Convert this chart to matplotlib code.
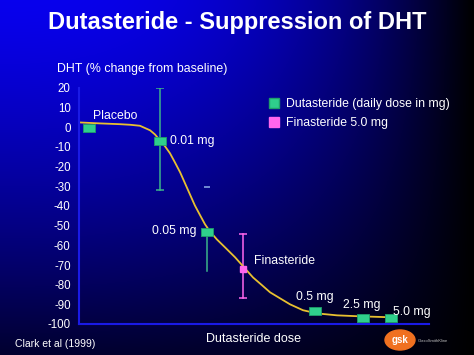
import numpy as np
import matplotlib
matplotlib.use("Agg")
import matplotlib.pyplot as plt
from matplotlib.lines import Line2D
from matplotlib.patches import Ellipse

plt.rcParams['font.family'] = ['Liberation Sans', 'DejaVu Sans']

# positions along the (unscaled) dose axis, 0..100
dose_labels = ["Placebo", "0.01 mg", "0.05 mg", "0.5 mg", "2.5 mg", "5.0 mg"]
dose_x = [2.9, 23.1, 36.6, 67.4, 81.1, 89.1]
dose_y = [-0.5, -7, -53, -93.5, -97, -97]
# error bar ends (None = not drawn)
err_low = [None, -32, -73, None, None, None]
err_high = [None, 20, None, None, None, None]
stray_cap = (36.6, -30.5)

fin_x = 46.9
fin_y = -72
fin_low, fin_high = -87, -54

# fitted curve
curve_x = [0, 6, 11.7, 14.6, 17.4, 20.3, 21.7, 23.1, 24.6, 26.0, 27.4, 28.9, 30.3,
           31.7, 33.1, 34.6, 36.0, 37.4, 39.4, 41.7, 44.6, 46.9, 49.7, 52.3, 54.6,
           57.4, 60.3, 64.0, 68.0, 73.7, 80.3, 89.4]
curve_y = [2.5, 2.0, 1.6, 1.3, 0.8, -1.5, -3.6, -6.6, -9.7, -13.2, -17.8, -22.9, -28.5,
           -34.1, -39.7, -44.7, -49.3, -52.9, -57.0, -61.0, -66.1, -70.7, -76.3, -80.3, -83.9,
           -86.9, -90.0, -93.0, -94.6, -95.6, -96.1, -96.6]

yticks = list(range(20, -101, -10))

green = "#2fcf8c"
green_bar = "#3cb48a"
pink = "#ff66ee"
curve_col = "#e8c030"

fig = plt.figure(figsize=(4.74, 3.55), dpi=100)

# background gradient: bright blue top-left fading to black bottom-right
bg = fig.add_axes([0, 0, 1, 1])
gx = np.linspace(0, 1, 300)
gy = np.linspace(0, 1, 200)
GX, GY = np.meshgrid(gx, gy)
inten = (1 - GX ** 2.5) * (1 - 0.8 * GY ** 1.3)
img = np.zeros((200, 300, 3))
img[..., 2] = 0.93 * inten
img[..., 0] = 0.03 * inten
bg.imshow(img, aspect='auto', extent=[0, 1, 0, 1], origin='upper')
bg.axis('off')

ax = fig.add_axes([79 / 474, 1 - 324 / 355, 350 / 474, (324 - 88) / 355])
ax.patch.set_alpha(0)
ax.set_xlim(0, 100)
ax.set_ylim(-100, 20)
ax.set_yticks(yticks)
ax.set_yticklabels([str(t) for t in yticks], color='white', fontsize=8.3)
ax.set_xticks([])
ax.tick_params(axis='y', length=0, pad=6)
for s in ['top', 'right']:
    ax.spines[s].set_visible(False)
ax.spines['left'].set_color('#1a1ae6')
ax.spines['bottom'].set_color('#1a1ae6')
ax.spines['left'].set_linewidth(1.5)
ax.spines['bottom'].set_linewidth(1.5)

ax.plot(curve_x, curve_y, color=curve_col, lw=1.3, zorder=2)

rect = [(-1.5, -1), (1.5, -1), (1.5, 1), (-1.5, 1), (-1.5, -1)]
for x, y, lo, hi in zip(dose_x, dose_y, err_low, err_high):
    if lo is not None:
        ax.plot([x, x], [lo, y], color=green_bar, lw=1.1, zorder=1)
        if hi is not None:
            ax.plot([x, x], [y, hi], color=green_bar, lw=1.1, zorder=1)
            ax.plot([x], [lo], marker='_', ms=6, color=green_bar, mew=1.1)
            ax.plot([x], [hi], marker='_', ms=6, color=green_bar, mew=1.1)
ax.plot([stray_cap[0]], [stray_cap[1]], marker='_', ms=5, color='#8fb0e8', mew=1.1)
ax.plot(dose_x, dose_y, linestyle='none', marker=rect, ms=8.6, color=green,
        mec='#1f9f6a', mew=0.6, zorder=3)

ax.plot([fin_x, fin_x], [fin_low, fin_high], color=pink, lw=1.1, zorder=1)
ax.plot([fin_x, fin_x], [fin_low, fin_high], linestyle='none', marker='_', ms=6, color=pink, mew=1.1)
ax.plot([fin_x], [fin_y], linestyle='none', marker='s', ms=4, color=pink, zorder=3)

# point labels
lab_style = dict(color='white', fontsize=8.8)
ax.text(4, 6, dose_labels[0], ha='left', va='center', **lab_style)
ax.text(26, -7, dose_labels[1], ha='left', va='center', **lab_style)
ax.text(33.5, -52.5, dose_labels[2], ha='right', va='center', **lab_style)
ax.text(50, -68, "Finasteride", ha='left', va='center', **lab_style)
ax.text(62, -86.5, dose_labels[3], ha='left', va='center', **lab_style)
ax.text(75.5, -90.5, dose_labels[4], ha='left', va='center', **lab_style)
ax.text(89.6, -94, dose_labels[5], ha='left', va='center', **lab_style)

fig.text(0.5, 1 - 22 / 355, "Dutasteride - Suppression of DHT", color='white',
         fontsize=17, fontweight='bold', ha='center', va='center')
fig.text(57 / 474, 1 - 69 / 355, "DHT (% change from baseline)", color='white',
         fontsize=8.9, ha='left', va='center')
fig.text(254 / 474, 1 - 339 / 355, "Dutasteride dose", color='white',
         fontsize=9, ha='center', va='center')
fig.text(15 / 474, 1 - 344 / 355, "Clark et al (1999)", color='white',
         fontsize=7.5, ha='left', va='center')

handles = [Line2D([], [], linestyle='none', marker='s', ms=6.5, color=green, mec='#1f9f6a'),
           Line2D([], [], linestyle='none', marker='s', ms=6.5, color=pink, mec=pink)]
leg = fig.legend(handles, ["Dutasteride (daily dose in mg)", "Finasteride 5.0 mg"],
                 loc='upper left', bbox_to_anchor=(262 / 474, 1 - 92 / 355), frameon=False,
                 fontsize=8.8, handlelength=1.0, handletextpad=0.5, labelspacing=0.55,
                 borderpad=0, labelcolor='white')

# gsk logo
bg.add_patch(Ellipse((400 / 474, 1 - 340 / 355), 30 / 474, 20 / 355, color='#f07020', zorder=5))
bg.text(400 / 474, 1 - 340 / 355, "gsk", color='white', fontsize=7, fontweight='bold',
        ha='center', va='center', zorder=6)
bg.text(418 / 474, 1 - 341 / 355, "GlaxoSmithKline", color='#c0c0c0', fontsize=3,
        ha='left', va='center', zorder=6)

fig.savefig("out.png", dpi=100)
